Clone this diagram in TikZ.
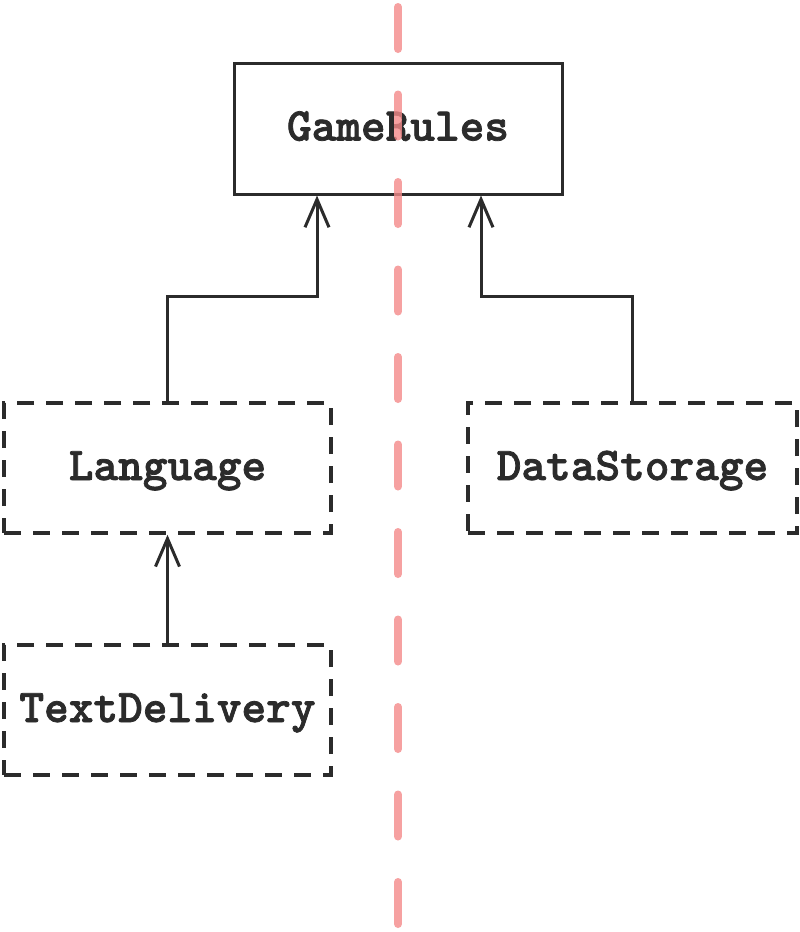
\documentclass[tikz,border=0pt]{standalone}
\usepackage{fontspec}
\newfontfamily\courfont[FakeBold=1.6]{lmmonolt10-bold.otf}
\usetikzlibrary{arrows.meta}
\definecolor{ink}{HTML}{2B2B2B}
\definecolor{salmon}{HTML}{F48A8A}
\tikzset{
  box/.style={draw=ink, line width=3pt, inner sep=0pt, text=ink,
    text height=30pt, text depth=6pt,
    font=\courfont\fontsize{47}{47}\selectfont},
  dbox/.style={box, line width=3.5pt, dash pattern=on 17pt off 12pt},
  arr/.style={draw=ink, line width=3pt, -{Straight Barb[length=28pt,width=24pt,line width=3pt]}},
  axis/.style={draw=salmon, line width=8pt, line cap=round, opacity=0.8, dash pattern=on 42pt off 45.5pt}
}
\begin{document}
\begin{tikzpicture}[x=1pt,y=-1pt]
\useasboundingbox[fill=white] (0,0) rectangle (800,932);
\node[box, minimum width=328pt, minimum height=131pt] (gr) at (398,128.5) {GameRules};
\node[dbox, minimum width=327pt, minimum height=130pt] (lang) at (167.5,468) {Language};
\node[dbox, minimum width=329pt, minimum height=130pt] (ds) at (632.5,468) {DataStorage};
\node[dbox, minimum width=327pt, minimum height=130pt] (td) at (167.5,710) {TextDelivery};
\coordinate (j1) at (317,296);
\coordinate (j2) at (481,296);
\draw[arr] (lang.north) |- (j1) -- (j1 |- gr.south);
\draw[arr] (ds.north) |- (j2) -- (j2 |- gr.south);
\draw[arr] (td.north) -- (lang.south);
\coordinate (a1) at (398,7);
\coordinate (a2) at (398,932);
\draw[axis] (a1) -- (a2);
\end{tikzpicture}
\end{document}
